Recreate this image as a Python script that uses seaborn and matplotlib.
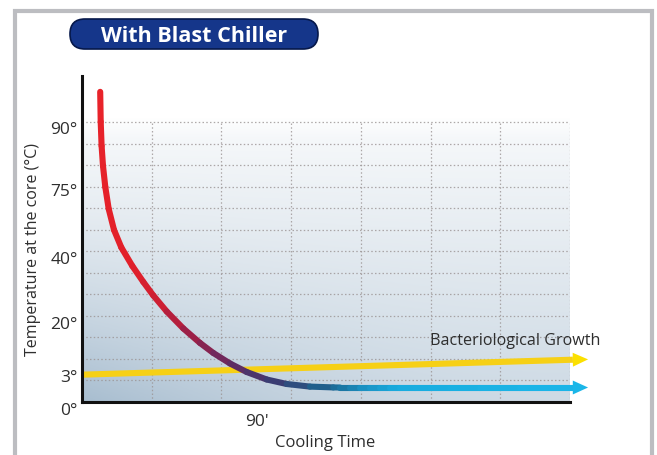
import numpy as np
import matplotlib
matplotlib.use('Agg')
import matplotlib.pyplot as plt
import seaborn as sns
from matplotlib.collections import LineCollection
from matplotlib.colors import LinearSegmentedColormap, to_rgb
from matplotlib.patches import FancyBboxPatch, Rectangle

# ---------------- data ----------------
title = 'With Blast Chiller'
temp_ticks = [0, 3, 20, 40, 75, 90]
temp_labels = ['0°', '3°', '20°', '40°', '75°', '90°']
time_ticks = [90]
time_labels = ["90'"]

# the temperature axis of the original is schematic (not linear)
scale_temp = [0, 3, 20, 40, 75, 90, 100, 110]
scale_height = [0, 27, 80, 145, 213, 275, 316, 357]

# core temperature while blast chilling (minutes, °C)
cool_min = [9.36, 9.62, 10.08, 10.80, 11.98, 13.73, 16.46, 20.21, 25.87, 31.53,
            36.67, 43.56, 52.10, 60.69, 67.53, 76.12, 84.70, 94.99, 105.27,
            117.26, 129.24, 132.7, 137.9, 143.0, 148.1, 153.3, 158.4, 163.6,
            171.3, 179.0, 189.3, 204.7, 225.3, 253.6]
cool_temp = [98.54, 91.22, 85.40, 80.56, 75.48, 64.71, 53.90, 44.89, 37.23, 32.31,
             28.15, 23.23, 17.92, 13.27, 10.06, 6.69, 3.96, 2.50, 2.00,
             1.71, 1.62, 1.61, 1.61, 1.61, 1.61, 1.61, 1.61, 1.61,
             1.61, 1.61, 1.61, 1.61, 1.61, 1.61]

# bacteriological growth threshold line
growth_min = [0, 252.5]
growth_temp = [3.1, 7.9]
growth_label = 'Bacteriological Growth'

arrow_tip_min = 260.3
time_max = 251.0
temp_max = 102.4


def fwd(t):
    return np.interp(t, scale_temp, scale_height)


def inv(h):
    return np.interp(h, scale_height, scale_temp)


sns.set_theme(style='white')
plt.rcParams['font.family'] = ['Open Sans', 'DejaVu Sans']
txt = '#2e2e2e'

fig = plt.figure(figsize=(6.57, 4.56), dpi=100)

# ---- background layer in pixel units: frame + title pill ----
bg = fig.add_axes([0, 0, 1, 1], zorder=0)
bg.set_xlim(0, 657)
bg.set_ylim(456, 0)
bg.axis('off')
bg.add_patch(Rectangle((15, 12), 637, 500, facecolor='white',
                       edgecolor='#bcbdc1', lw=3))

pill = FancyBboxPatch((70, 20), 248, 30, boxstyle='round,pad=0,rounding_size=15',
                      facecolor='#15368a', edgecolor='#06184a', lw=1.2)
bg.add_patch(pill)
c_top, c_mid, c_bot = [np.array(to_rgb(c)) for c in ('#4566b8', '#1a3f96', '#0a2262')]
tt = np.linspace(0, 1, 60)[:, None]
grad = np.where(tt < 0.45, c_top + (c_mid - c_top) * (tt / 0.45),
                c_mid + (c_bot - c_mid) * ((tt - 0.45) / 0.55))
im = bg.imshow(grad[:, None, :].repeat(4, axis=1), extent=[70, 318, 50, 20],
               aspect='auto', origin='upper')
im.set_clip_path(pill)
bg.text(194, 36, title, color='white', fontsize=15.5, fontweight='bold',
        ha='center', va='center')

# ---- chart ----
ax = fig.add_axes([82 / 657, 1 - 403 / 456, 488 / 657, 326 / 456], zorder=1)
ax.set_facecolor('none')
ax.set_yscale('function', functions=(fwd, inv))
ax.set_xlim(0, time_max)
ax.set_ylim(0, temp_max)

# soft blue backdrop
H, W = 140, 260
t = np.linspace(0, 1, H)[:, None]
s = np.linspace(0, 1, W)[None, :]
w = 0.08 + 0.5 * t + 0.45 * (1 - s) ** 2 * t ** 2
w = w * np.clip(t / 0.07, 0, 1) ** 0.7
blue = np.array(to_rgb('#aabfd1'))
img = (1 - w[..., None]) * 1.0 + w[..., None] * blue
ax.imshow(np.clip(img, 0, 1), extent=[0, 1, 0, 0.874], transform=ax.transAxes,
          aspect='auto', origin='upper', zorder=0)

# dotted grid
gx = np.linspace(0, 1, 8)[1:]
gy = np.linspace(0, 280 / 326, 14)[1:]
for x in gx:
    ax.plot([x, x], [0, gy[-1]], transform=ax.transAxes, color='#9b9494',
            lw=0.9, ls=(0, (1.2, 1.8)), alpha=0.8, zorder=1)
for y in gy:
    ax.plot([0, 1], [y, y], transform=ax.transAxes, color='#9b9494',
            lw=0.9, ls=(0, (1.2, 1.8)), alpha=0.8, zorder=1)

# bacteriological growth line (yellow) with arrow head
sns.lineplot(x=growth_min, y=growth_temp, ax=ax, color='#f6d016', lw=4.4,
             clip_on=False, zorder=3, solid_capstyle='butt')
ax.annotate('', xy=(arrow_tip_min, growth_temp[-1] + 0.1),
            xytext=(growth_min[-1], growth_temp[-1]),
            arrowprops=dict(arrowstyle='-|>,head_length=1.1,head_width=0.5',
                            color='#fbe000', lw=0, mutation_scale=10,
                            shrinkA=0, shrinkB=0),
            annotation_clip=False, zorder=3)
ax.text(223, 14.2, growth_label, color=txt, fontsize=11.6, ha='center', va='center')

# cooling curve, red -> purple -> cyan
cmap = LinearSegmentedColormap.from_list('chill', [
    (0.0, '#e8232a'), (0.27, '#e2202a'), (0.34, '#cc1f33'), (0.41, '#9a2048'),
    (0.48, '#642a62'), (0.55, '#3c3c72'), (0.634, '#1c6690'), (0.685, '#1a8fc0'),
    (0.74, '#19acdf'), (1.0, '#1ab6e8')])
pts = np.column_stack([cool_min, cool_temp])
segs = np.stack([pts[:-1], pts[1:]], axis=1)
dl = np.hypot(np.diff(pts[:, 0]) * 1.944, np.diff(fwd(pts[:, 1])))
cum = np.concatenate([[0], np.cumsum(dl)])
mid = (cum[:-1] + cum[1:]) / 2 / cum[-1]
lc = LineCollection(segs, colors=cmap(mid), linewidths=4.4, capstyle='round',
                    joinstyle='round', zorder=4)
lc.set_clip_on(False)
ax.add_collection(lc)
ax.annotate('', xy=(arrow_tip_min, cool_temp[-1]), xytext=(cool_min[-1], cool_temp[-1]),
            arrowprops=dict(arrowstyle='-|>,head_length=1.1,head_width=0.5',
                            color='#1ab6e8', lw=0, mutation_scale=10,
                            shrinkA=0, shrinkB=0),
            annotation_clip=False, zorder=4)

# axes styling
for side in ('top', 'right'):
    ax.spines[side].set_visible(False)
for side in ('left', 'bottom'):
    ax.spines[side].set_color('#111111')
    ax.spines[side].set_linewidth(2.2)
    ax.spines[side].set_zorder(5)

ax.set_yticks(temp_ticks)
ax.set_yticklabels(temp_labels)
ax.set_xticks(time_ticks)
ax.set_xticklabels(time_labels)
ax.minorticks_off()
ax.tick_params(axis='y', length=0, pad=3, labelsize=12.5, labelcolor=txt)
ax.tick_params(axis='x', length=0, pad=8, labelsize=12.5, labelcolor=txt)
ax.get_yticklabels()[0].set_va('top')

ax.set_ylabel('Temperature at the core (°C)', fontsize=11.5, color=txt, va='center')
ax.yaxis.set_label_coords((33 - 82) / 488, (403 - 250) / 326)
ax.set_xlabel('Cooling Time', fontsize=12, color=txt, va='center')
ax.xaxis.set_label_coords((325 - 82) / 488, (403 - 443) / 326)

fig.savefig('out.png', dpi=100)
